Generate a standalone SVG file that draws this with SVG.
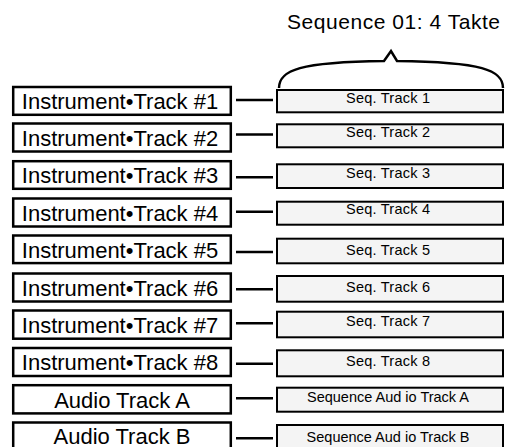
<svg xmlns="http://www.w3.org/2000/svg" width="505" height="447" viewBox="0 0 505 447">
<style>
.src rect{fill:#fff;stroke:#000;stroke-width:2.5}
.seq rect{fill:#f4f4f4;stroke:#000;stroke-width:2}
.lt{font-family:"Liberation Sans",Arial,sans-serif;font-size:22px;fill:#000;text-anchor:middle}
.st{font-family:"Liberation Sans",Arial,sans-serif;font-size:14.5px;fill:#000;text-anchor:middle}
.hd{font-family:"Liberation Sans",Arial,sans-serif;font-size:21px;fill:#000}
#connectors line{stroke:#000;stroke-width:2.5}
</style>
<rect width="505" height="447" fill="#fff"/>
<g id="header">
<text class="hd" x="287" y="29" textLength="213" lengthAdjust="spacing">Sequence 01: 4 Takte</text>
<path d="M279,88 C279,70 300,62 384,61 L391,51 L397,61 C482,62 503,70 503,88" fill="none" stroke="#000" stroke-width="2.5" stroke-linejoin="miter"/>
</g>
<g id="src1" class="src"><rect x="13.2" y="87" width="217.6" height="27.8"/><text class="lt" x="120" y="109">Instrument•Track #1</text></g>
<g id="src2" class="src"><rect x="13.2" y="123.5" width="217.6" height="28"/><text class="lt" x="120" y="145.5">Instrument•Track #2</text></g>
<g id="src3" class="src"><rect x="13.2" y="161.2" width="217.6" height="27.6"/><text class="lt" x="120" y="183">Instrument•Track #3</text></g>
<g id="src4" class="src"><rect x="13.2" y="198.5" width="217.6" height="28"/><text class="lt" x="120" y="220.5">Instrument•Track #4</text></g>
<g id="src5" class="src"><rect x="13.2" y="235.5" width="217.6" height="27.6"/><text class="lt" x="120" y="257.5">Instrument•Track #5</text></g>
<g id="src6" class="src"><rect x="13.2" y="273.5" width="217.6" height="28"/><text class="lt" x="120" y="295.5">Instrument•Track #6</text></g>
<g id="src7" class="src"><rect x="13.2" y="310.5" width="217.6" height="28.2"/><text class="lt" x="120" y="332.5">Instrument•Track #7</text></g>
<g id="src8" class="src"><rect x="13.2" y="348" width="217.6" height="28"/><text class="lt" x="120" y="370">Instrument•Track #8</text></g>
<g id="srcA" class="src"><rect x="13.2" y="385.2" width="217.6" height="28.2"/><text class="lt" x="122" y="407.5">Audio Track A</text></g>
<g id="srcB" class="src"><rect x="13.2" y="422.5" width="217.6" height="28"/><text class="lt" x="122" y="443.5">Audio Track B</text></g>
<g id="connectors">
<line x1="236" y1="100" x2="273" y2="100"/>
<line x1="236" y1="134.5" x2="273" y2="134.5"/>
<line x1="236" y1="177.3" x2="273" y2="177.3"/>
<line x1="236" y1="211.7" x2="273" y2="211.7"/>
<line x1="236" y1="252" x2="273" y2="252"/>
<line x1="236" y1="289.3" x2="273" y2="289.3"/>
<line x1="236" y1="323.3" x2="273" y2="323.3"/>
<line x1="236" y1="363.7" x2="273" y2="363.7"/>
<line x1="236" y1="398.3" x2="273" y2="398.3"/>
<line x1="236" y1="438.3" x2="273" y2="438.3"/>
</g>
<g id="seq1" class="seq"><rect x="277" y="90" width="226" height="22.3"/><text class="st" x="388" y="102.5" textLength="84" lengthAdjust="spacing">Seq. Track 1</text></g>
<g id="seq2" class="seq"><rect x="277" y="124.3" width="226" height="23"/><text class="st" x="388" y="136.5" textLength="84" lengthAdjust="spacing">Seq. Track 2</text></g>
<g id="seq3" class="seq"><rect x="277" y="164.3" width="226" height="23.7"/><text class="st" x="388" y="177.5" textLength="84" lengthAdjust="spacing">Seq. Track 3</text></g>
<g id="seq4" class="seq"><rect x="277" y="201.7" width="226" height="23"/><text class="st" x="388" y="214" textLength="84" lengthAdjust="spacing">Seq. Track 4</text></g>
<g id="seq5" class="seq"><rect x="277" y="238.7" width="226" height="24.6"/><text class="st" x="388" y="254.5" textLength="84" lengthAdjust="spacing">Seq. Track 5</text></g>
<g id="seq6" class="seq"><rect x="277" y="276" width="226" height="25.7"/><text class="st" x="388" y="292" textLength="84" lengthAdjust="spacing">Seq. Track 6</text></g>
<g id="seq7" class="seq"><rect x="277" y="311.7" width="226" height="25.6"/><text class="st" x="388" y="326" textLength="84" lengthAdjust="spacing">Seq. Track 7</text></g>
<g id="seq8" class="seq"><rect x="277" y="350.3" width="226" height="26"/><text class="st" x="388" y="365.7" textLength="84" lengthAdjust="spacing">Seq. Track 8</text></g>
<g id="seqA" class="seq"><rect x="277" y="387.7" width="226" height="24"/><text class="st" x="388" y="401.7">Sequence Aud io Track A</text></g>
<g id="seqB" class="seq"><rect x="277" y="425" width="226" height="26"/><text class="st" x="388" y="441.7">Sequence Aud io Track B</text></g>
</svg>
